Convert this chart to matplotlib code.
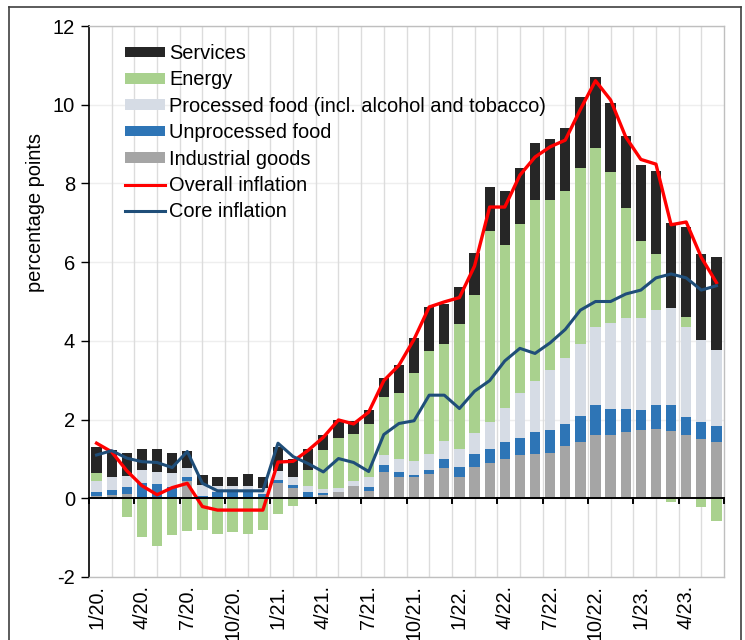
import matplotlib
matplotlib.use('Agg')
import matplotlib.pyplot as plt
import numpy as np
from matplotlib.lines import Line2D
from matplotlib.patches import Patch

plt.rcParams['font.family'] = ['Liberation Sans', 'DejaVu Sans']
plt.rcParams['axes.unicode_minus'] = False

months = ['1/20.', '2/20.', '3/20.', '4/20.', '5/20.', '6/20.', '7/20.', '8/20.', '9/20.', '10/20.', '11/20.', '12/20.',
          '1/21.', '2/21.', '3/21.', '4/21.', '5/21.', '6/21.', '7/21.', '8/21.', '9/21.', '10/21.', '11/21.', '12/21.',
          '1/22.', '2/22.', '3/22.', '4/22.', '5/22.', '6/22.', '7/22.', '8/22.', '9/22.', '10/22.', '11/22.', '12/22.',
          '1/23.', '2/23.', '3/23.', '4/23.', '5/23.', '6/23.']
tick_labels = ['1/20.', '4/20.', '7/20.', '10/20.', '1/21.', '4/21.', '7/21.', '10/21.',
               '1/22.', '4/22.', '7/22.', '10/22.', '1/23.', '4/23.']

industrial = [0.06, 0.09, 0.10, 0.04, 0.04, 0.04, 0.44, 0.02, 0.00, 0.00, 0.00, 0.00,
              0.40, 0.26, 0.04, 0.08, 0.17, 0.30, 0.19, 0.66, 0.55, 0.53, 0.62, 0.77,
              0.55, 0.79, 0.89, 0.99, 1.09, 1.12, 1.16, 1.34, 1.44, 1.62, 1.62, 1.68,
              1.73, 1.76, 1.72, 1.62, 1.51, 1.44]
unprocessed = [0.09, 0.12, 0.18, 0.36, 0.32, 0.24, 0.11, 0.05, 0.15, 0.15, 0.15, 0.11,
               0.07, 0.08, 0.13, 0.05, 0.00, 0.00, 0.09, 0.19, 0.13, 0.07, 0.10, 0.22,
               0.25, 0.33, 0.37, 0.45, 0.44, 0.56, 0.57, 0.55, 0.64, 0.76, 0.66, 0.60,
               0.51, 0.62, 0.66, 0.44, 0.43, 0.40]
processed = [0.29, 0.32, 0.29, 0.33, 0.31, 0.36, 0.22, 0.26, 0.17, 0.17, 0.17, 0.15,
             0.23, 0.21, 0.13, 0.10, 0.10, 0.14, 0.25, 0.26, 0.32, 0.35, 0.40, 0.47,
             0.46, 0.54, 0.67, 0.86, 1.15, 1.31, 1.52, 1.68, 1.83, 1.98, 2.18, 2.31,
             2.35, 2.40, 2.45, 2.30, 2.07, 1.94]
energy = [0.20, 0.00, -0.47, -0.98, -1.21, -0.94, -0.83, -0.81, -0.90, -0.85, -0.91, -0.81,
          -0.41, -0.19, 0.42, 1.00, 1.26, 1.20, 1.36, 1.47, 1.68, 2.24, 2.62, 2.47,
          3.17, 3.51, 4.86, 4.14, 4.28, 4.60, 4.32, 4.23, 4.48, 4.55, 3.83, 2.79,
          1.94, 1.43, -0.10, 0.25, -0.21, -0.58]
services = [0.67, 0.70, 0.59, 0.53, 0.59, 0.52, 0.43, 0.27, 0.23, 0.23, 0.30, 0.29,
            0.60, 0.45, 0.53, 0.39, 0.47, 0.32, 0.36, 0.48, 0.70, 0.89, 1.13, 1.00,
            0.95, 1.05, 1.12, 1.37, 1.44, 1.44, 1.55, 1.60, 1.80, 1.80, 1.76, 1.82,
            1.93, 2.11, 2.16, 2.28, 2.20, 2.34]
overall = [1.40, 1.18, 0.70, 0.32, 0.09, 0.27, 0.38, -0.21, -0.30, -0.30, -0.30, -0.30,
           0.92, 0.94, 1.22, 1.55, 1.99, 1.89, 2.19, 2.99, 3.38, 4.04, 4.86, 4.99,
           5.10, 5.90, 7.40, 7.40, 8.21, 8.67, 8.93, 9.10, 9.88, 10.61, 10.12, 9.18,
           8.61, 8.49, 6.95, 7.02, 6.12, 5.48]
core = [1.10, 1.21, 1.02, 0.93, 0.91, 0.78, 1.19, 0.38, 0.19, 0.19, 0.19, 0.19,
        1.40, 1.06, 0.88, 0.67, 1.01, 0.91, 0.68, 1.62, 1.90, 1.97, 2.62, 2.62,
        2.28, 2.72, 2.99, 3.49, 3.81, 3.68, 3.95, 4.29, 4.78, 5.00, 5.00, 5.19,
        5.29, 5.60, 5.70, 5.60, 5.29, 5.40]

series = [
    ('Industrial goods', industrial, '#a5a5a5'),
    ('Unprocessed food', unprocessed, '#2e75b6'),
    ('Processed food (incl. alcohol and tobacco)', processed, '#d6dce5'),
    ('Energy', energy, '#a9d18e'),
    ('Services', services, '#262626'),
]

W, H = 745, 640
fig = plt.figure(figsize=(W / 100, H / 100), dpi=100)
L, R, T, B = 89, 724, 26, 577
ax = fig.add_axes([L / W, (H - B) / H, (R - L) / W, (B - T) / H])

x = np.arange(len(months))
pos_base = np.zeros(len(months))
neg_base = np.zeros(len(months))
for name, vals, col in series:
    v = np.array(vals)
    bottoms = np.where(v >= 0, pos_base, neg_base)
    ax.bar(x, v, width=0.68, bottom=bottoms, color=col, zorder=3, linewidth=0)
    pos_base = pos_base + np.where(v >= 0, v, 0)
    neg_base = neg_base + np.where(v < 0, v, 0)

ax.plot(x, overall, color='#ff0000', lw=2.4, zorder=5)
ax.plot(x, core, color='#1f4e79', lw=2.2, zorder=6)

ax.set_xlim(-0.5, len(months) - 0.5)
ax.set_ylim(-2, 12)
ax.set_yticks(np.arange(-2, 13, 2))
ax.tick_params(axis='y', direction='out', length=6, width=1, labelsize=14.5, pad=4, color='black')

# horizontal and vertical gridlines
for yv in np.arange(-2, 13, 2):
    ax.axhline(yv, color='#eeeeee', lw=1, zorder=1)
for gx in np.arange(-0.5 + 1.5, len(months) - 0.5, 1.5):
    ax.axvline(gx, color='#dcdcdc', lw=1, zorder=1)

# zero axis line with category tick marks
ax.axhline(0, color='black', lw=1.4, zorder=7)
for tx in np.arange(-0.5, len(months), 3):
    ax.plot([tx, tx], [0, -0.13], color='black', lw=1.4, zorder=7, clip_on=False)

tick_pos = [months.index(t) for t in tick_labels]
ax.set_xticks(tick_pos)
ax.set_xticklabels(tick_labels, rotation=90, fontsize=14.2)
ax.tick_params(axis='x', length=0, pad=6)

for s in ['top', 'right', 'bottom']:
    ax.spines[s].set_color('#bfbfbf')
    ax.spines[s].set_linewidth(1)
ax.spines['left'].set_color('black')
ax.spines['left'].set_linewidth(1.2)

ax.set_ylabel('percentage points', fontsize=14.4)
ax.yaxis.set_label_coords((45 - L) / (R - L), (B - 213) / (B - T))

handles = [
    Patch(facecolor='#262626', label='Services'),
    Patch(facecolor='#a9d18e', label='Energy'),
    Patch(facecolor='#d6dce5', label='Processed food (incl. alcohol and tobacco)'),
    Patch(facecolor='#2e75b6', label='Unprocessed food'),
    Patch(facecolor='#a5a5a5', label='Industrial goods'),
    Line2D([], [], color='#ff0000', lw=2.2, label='Overall inflation'),
    Line2D([], [], color='#1f4e79', lw=2.2, label='Core inflation'),
]
leg = ax.legend(handles=handles, loc='upper left', bbox_to_anchor=((125 - L) / (R - L), (B - 44) / (B - T)),
                frameon=False, fontsize=14.4, handlelength=2.0, handleheight=0.45, handletextpad=0.2,
                labelspacing=0.37, borderaxespad=0, borderpad=0)
leg.set_zorder(10)

# outer frame
fig.add_artist(Line2D([9 / W, 9 / W], [0, 1 - 7 / H], transform=fig.transFigure, color='#404040', lw=1.2))
fig.add_artist(Line2D([9 / W, 741 / W], [1 - 7 / H, 1 - 7 / H], transform=fig.transFigure, color='#404040', lw=1.2))
fig.add_artist(Line2D([741 / W, 741 / W], [0, 1 - 7 / H], transform=fig.transFigure, color='#404040', lw=1.2))

fig.savefig('out.png', dpi=100)
